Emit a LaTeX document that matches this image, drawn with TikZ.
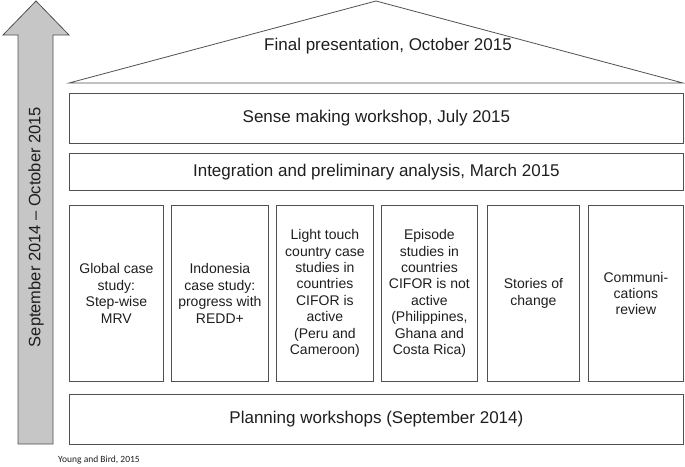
\documentclass[tikz,border=0pt]{standalone}
\usepackage{fontspec}
\setmainfont{Liberation Sans}
\newfontfamily\notefont{Carlito}
\definecolor{edgegray}{HTML}{505050}
\definecolor{arrowfill}{HTML}{C6C6C6}
\definecolor{inkgray}{HTML}{1E1E1E}

\tikzset{
  bar/.style={draw=edgegray, line width=0.8pt, anchor=north west, inner sep=0pt,
    minimum width=614pt, text=inkgray, font=\fontsize{17}{20}\selectfont},
  pillar/.style={draw=edgegray, line width=0.8pt, anchor=north west, inner sep=0pt,
    minimum height=176pt, align=center, text=inkgray, font=\fontsize{14}{16.4}\selectfont},
}

\begin{document}
\begin{tikzpicture}[x=1pt, y=-1pt]
		%%%%% START %%%%%
		\useasboundingbox (0,0) rectangle (685,466);
		
		% time arrow
		\draw[fill=arrowfill, draw=edgegray, line width=0.8pt]
		  (18,444) -- (18,35) -- (3,35) -- (36,1) -- (69,35) -- (53,35) -- (53,444) -- cycle;
		\node[rotate=90, text=inkgray, font=\fontsize{16.5}{20}\selectfont] (period) at (36,227)
		  {September 2014 -- October 2015};
		
		% roof
		\coordinate (roofL) at (69,83);
		\coordinate (roofT) at (376,1);
		\coordinate (roofR) at (683,83);
		\draw[draw=edgegray, line width=0.8pt] (roofL) -- (roofT) -- (roofR) -- cycle;
		\node[text=inkgray, font=\fontsize{17}{20}\selectfont] (final) at (388,46) {Final presentation, October 2015};
		
		% beams
		\node[bar, minimum height=50pt] (sense) at (69,93) {Sense making workshop, July 2015};
		\node[bar, minimum height=37pt] (integ) at (69,153) {Integration and preliminary analysis, March 2015};
		
		% pillars
		\node[pillar, minimum width=94pt] (glob) at (69,205) {Global case\\study:\\Step-wise\\MRV};
		\node[pillar, minimum width=97pt] (indo) at (171,205) {Indonesia\\case study:\\progress with\\REDD+};
		\node[pillar, minimum width=97pt] (light) at (276,205) {Light touch\\country case\\studies in\\countries\\CIFOR is\\active\\(Peru and\\Cameroon)};
		\node[pillar, minimum width=96pt] (episode) at (381,205) {Episode\\studies in\\countries\\CIFOR is not\\active\\(Philippines,\\Ghana and\\Costa Rica)};
		\node[pillar, minimum width=92pt] (stories) at (487,205) {Stories of\\change};
		\node[pillar, minimum width=95pt] (comms) at (588,205) {Communi-\\cations\\review};
		
		% foundation
		\node[bar, minimum height=50pt] (plan) at (69,394) {Planning workshops (September 2014)};
		
		\node[text=inkgray, font=\notefont\fontsize{9.5}{11}\selectfont] (source) at (99,460) {Young and Bird, 2015};
		%%%%% END %%%%%
\end{tikzpicture}
\end{document}
